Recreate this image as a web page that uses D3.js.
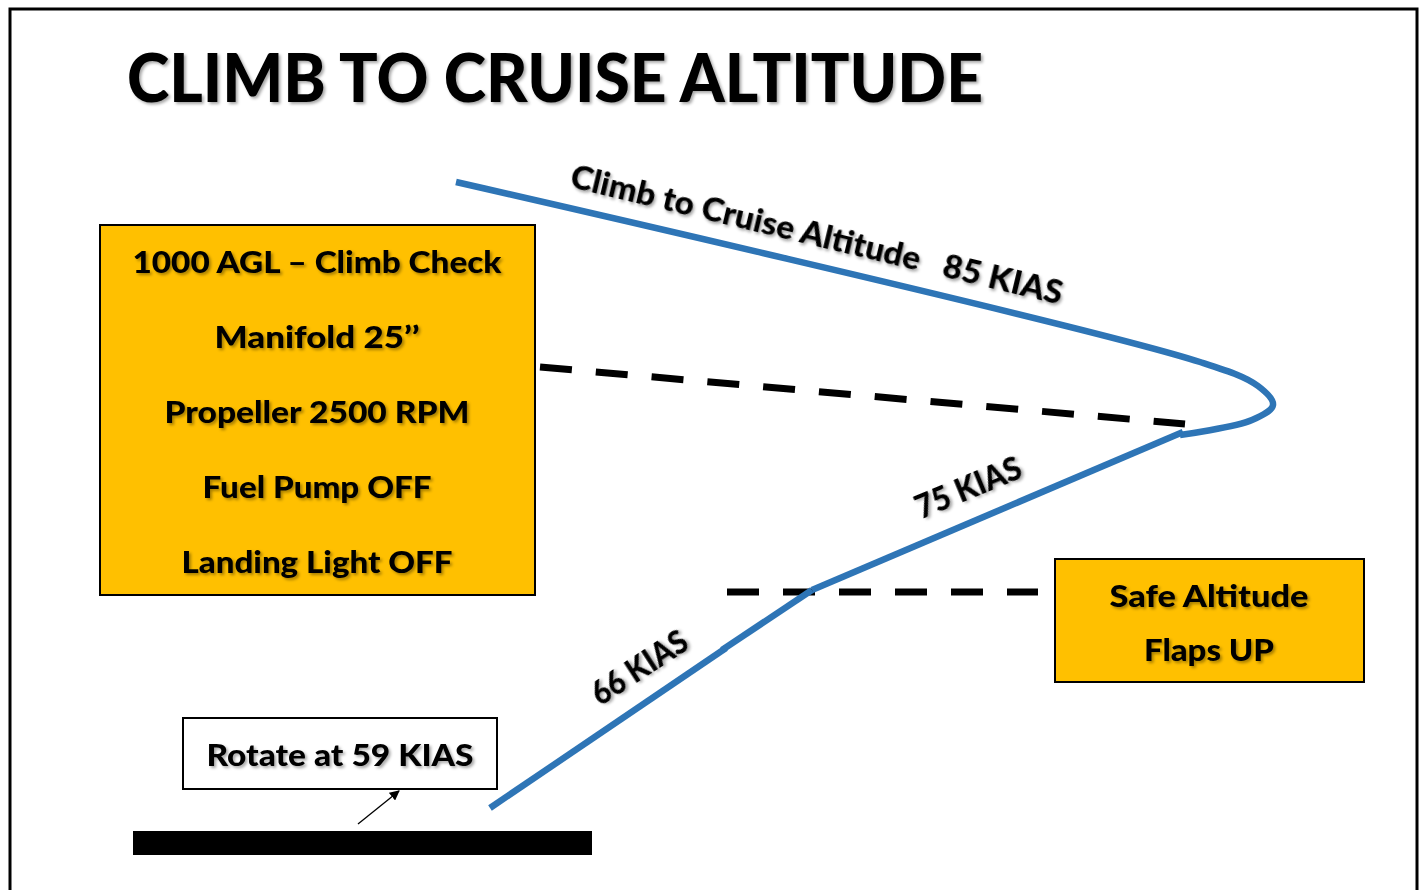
<!DOCTYPE html>
<html>
<head>
<meta charset="utf-8">
<script src="https://cdn.jsdelivr.net/npm/d3@7"></script>
<style>
  html, body { margin: 0; padding: 0; background: #fff; overflow: hidden; }
  svg { display: block; font-family: Lato, "Open Sans", sans-serif; font-weight: 900; }
  text { white-space: pre; }
</style>
</head>
<body>
<svg id="chart" width="1424" height="890"></svg>
<script>
// diagram text
const title = 'CLIMB TO CRUISE ALTITUDE';
const checklist = ['1000 AGL \u2013 Climb Check', 'Manifold 25\u2019\u2019', 'Propeller 2500 RPM', 'Fuel Pump OFF', 'Landing Light OFF'];
const safeAltitude = ['Safe Altitude', 'Flaps UP'];
const rotateLabel = 'Rotate at 59 KIAS';
const speedLabels = ['66 KIAS', '75 KIAS', 'Climb to Cruise Altitude   85 KIAS'];

// flight path in diagram units: [distance, altitude]
const initialClimb = [[490, 82], [726, 242]];
const flapsClimb = [[722, 240], [812, 300]];
const cruiseClimb = [[812, 300], [1183, 458]];
const turnToCruise = [[1180, 455], [1252, 470], [1273, 485], [1258, 504], [1200, 528], [456, 708]];
const climbCheckLevel = [[540, 523], [1185, 466]];
const safeLevel = [[727, 298], [1038, 298]];

const width = 1424;
const height = 890;

const x = d3.scaleLinear().domain([0, width]).range([0, width]);
const y = d3.scaleLinear().domain([0, height]).range([height, 0]);

const svg = d3.select('#chart');

const defs = svg.append('defs');
defs.append('filter')
  .attr('id', 'shadow')
  .attr('x', '-10%').attr('y', '-30%')
  .attr('width', '120%').attr('height', '160%')
  .append('feDropShadow')
  .attr('dx', 2).attr('dy', 2)
  .attr('stdDeviation', 1.5)
  .attr('flood-color', '#000')
  .attr('flood-opacity', 0.35);

defs.append('marker')
  .attr('id', 'arrowHead')
  .attr('viewBox', '0 0 10 10')
  .attr('refX', 9).attr('refY', 5)
  .attr('markerWidth', 10).attr('markerHeight', 10)
  .attr('markerUnits', 'userSpaceOnUse')
  .attr('orient', 'auto')
  .append('path')
  .attr('d', 'M0,0 L10,5 L0,10 Z')
  .attr('fill', '#000');

// page frame
svg.append('rect')
  .attr('x', 10).attr('y', 9)
  .attr('width', 1407).attr('height', 900)
  .attr('fill', '#fff')
  .attr('stroke', '#000')
  .attr('stroke-width', 3);

// text with a fixed width, like the source's Calibri
function fitText(g, str, cx, cy, size, len, angle) {
  return g.append('text')
    .attr('transform', `translate(${cx},${cy}) rotate(${angle || 0})`)
    .attr('text-anchor', 'middle')
    .attr('font-size', size)
    .attr('textLength', len)
    .attr('lengthAdjust', 'spacingAndGlyphs')
    .attr('filter', 'url(#shadow)')
    .attr('fill', '#000')
    .text(str);
}

fitText(svg, title, 555, 102, 66, 856);

// checklist box
svg.append('rect')
  .attr('x', 100).attr('y', 225)
  .attr('width', 435).attr('height', 370)
  .attr('fill', '#FFC000')
  .attr('stroke', '#000')
  .attr('stroke-width', 2);

const checkWidths = [369, 205, 305, 229, 271];
checklist.forEach((d, i) => fitText(svg, d, 317, 273 + i * 75, 31, checkWidths[i]));

// safe altitude box
svg.append('rect')
  .attr('x', 1055).attr('y', 559)
  .attr('width', 309).attr('height', 123)
  .attr('fill', '#FFC000')
  .attr('stroke', '#000')
  .attr('stroke-width', 2);

const safeWidths = [199, 130];
safeAltitude.forEach((d, i) => fitText(svg, d, 1209, 607 + i * 54, 31, safeWidths[i]));

// rotate box
svg.append('rect')
  .attr('x', 183).attr('y', 718)
  .attr('width', 314).attr('height', 71)
  .attr('fill', '#fff')
  .attr('stroke', '#000')
  .attr('stroke-width', 2);

fitText(svg, rotateLabel, 340, 766, 31, 267);

svg.append('line')
  .attr('x1', 358).attr('y1', 824)
  .attr('x2', 399).attr('y2', 791)
  .attr('stroke', '#000')
  .attr('stroke-width', 1.3)
  .attr('marker-end', 'url(#arrowHead)');

// runway
svg.append('rect')
  .attr('x', x(133)).attr('y', y(59))
  .attr('width', x(592) - x(133)).attr('height', y(35) - y(59))
  .attr('fill', '#000');

// dashed levels
const line = d3.line().x(d => x(d[0])).y(d => y(d[1]));

[climbCheckLevel, safeLevel].forEach(seg => {
  svg.append('path')
    .attr('d', line(seg))
    .attr('fill', 'none')
    .attr('stroke', '#000')
    .attr('stroke-width', 7)
    .attr('stroke-dasharray', '32,24');
});

// flight path
[initialClimb, flapsClimb, cruiseClimb].forEach(seg => {
  svg.append('path')
    .attr('d', line(seg))
    .attr('fill', 'none')
    .attr('stroke', '#2E75B6')
    .attr('stroke-width', 6.5);
});

svg.append('path')
  .attr('d', line.curve(d3.curveCatmullRom.alpha(0.5))(turnToCruise))
  .attr('fill', 'none')
  .attr('stroke', '#2E75B6')
  .attr('stroke-width', 6.5);

// speed labels along the path
fitText(svg, speedLabels[0], 639, 667, 33, 108, -33).attr('dy', '0.36em');
fitText(svg, speedLabels[1], 968, 487, 33, 112, -22.5).attr('dy', '0.36em');
fitText(svg, speedLabels[2], 817, 234, 33, 505, 13.5).attr('dy', '0.36em');
</script>
</body>
</html>
